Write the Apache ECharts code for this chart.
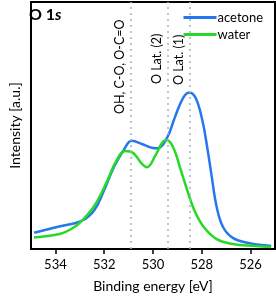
<!DOCTYPE html>
<html><head><meta charset="utf-8">
<script src="https://cdn.jsdelivr.net/npm/echarts@6/dist/echarts.min.js"></script>
<style>html,body{margin:0;padding:0;background:#fff}#c{width:276px;height:298px}</style>
</head><body><div id="c"></div>
<script>
const acetoneEnergy = [534.87,533.85,532.91,532.4,532.0,531.6,531.2,530.87,530.4,530.0,529.82,529.43,529.1,528.77,528.51,528.25,527.98,527.78,527.59,527.39,527.13,526.73,526.08,525.16];
const acetoneIntensity = [6.6,9.1,11.5,15.8,23.9,33.2,40.1,43.8,42.3,40.9,40.8,44.9,53.4,61.1,63.4,61.1,52.2,41.3,29.1,17.0,8.9,4.5,2.4,1.2];
const waterEnergy = [534.88,533.83,533.3,532.91,532.38,531.86,531.53,531.13,530.81,530.48,530.25,529.89,529.63,529.43,529.16,528.9,528.64,528.31,527.92,527.39,526.73,525.81,525.16];
const waterIntensity = [4.7,6.1,8.4,11.5,17.8,27.9,35.2,39.7,38.9,34.8,33.1,38.1,42.9,44.1,40.9,33.2,25.1,15.8,8.9,4.0,2.0,1.2,0.8];
const xTicks = [526,528,530,532,534];
const peakPositions = [530.9, 529.4, 528.5];
const peakLabels = ['OH, C-O, O-C=O', 'O Lat. (2)', 'O Lat. (1)'];
const peakLabelBottoms = [114, 84, 85];
const seriesNames = ['acetone', 'water'];

const font = 'Lato, "Open Sans", sans-serif';
const chart = echarts.init(document.getElementById('c'));
const zip = (a, b) => a.map((v, i) => [v, b[i]]);
chart.setOption({
  animation: false,
  title: {
    text: '{b|O 1}{i|s}', left: 25, top: 5, padding: [2, 4],
    textStyle: {
      rich: {
        b: {fontFamily: font, fontSize: 16, fontWeight: 'bold', color: '#000'},
        i: {fontFamily: font, fontSize: 16, fontWeight: 'bold', fontStyle: 'italic', color: '#000'}
      }
    }
  },
  grid: {left: 26, right: 1, top: 2, bottom: 49, show: true, borderColor: '#000', borderWidth: 2},
  legend: {
    orient: 'vertical', right: 8, top: 6, itemGap: 4,
    itemWidth: 33, itemHeight: 3, icon: 'rect',
    textStyle: {fontFamily: font, fontSize: 13, color: '#000', padding: [0, 0, 0, -4]},
    data: seriesNames
  },
  xAxis: {
    type: 'value', min: 525, max: 535, inverse: true,
    axisLine: {show: true, onZero: false, lineStyle: {color: '#000', width: 2}},
    axisTick: {show: true, customValues: xTicks, length: 5, inside: false, lineStyle: {color: '#000', width: 1.5}},
    axisLabel: {customValues: xTicks, fontFamily: font, fontSize: 13, color: '#000', margin: 9},
    splitLine: {show: false},
    name: 'Binding energy [eV]', nameLocation: 'middle', nameGap: 30,
    nameTextStyle: {fontFamily: font, fontSize: 14, color: '#000'}
  },
  yAxis: {
    type: 'value', min: 0, max: 100,
    axisLine: {show: true, lineStyle: {color: '#000', width: 2}},
    axisTick: {show: false}, axisLabel: {show: false}, splitLine: {show: false},
    name: 'Intensity [a.u.]', nameLocation: 'middle', nameGap: 9,
    nameTextStyle: {fontFamily: font, fontSize: 14, color: '#000'}
  },
  series: [
    {
      name: seriesNames[0], type: 'line', smooth: 0.4, showSymbol: false,
      data: zip(acetoneEnergy, acetoneIntensity),
      lineStyle: {color: '#2677ee', width: 2.5}, itemStyle: {color: '#2677ee'}, z: 3,
      markLine: {
        silent: true, symbol: 'none', label: {show: false},
        lineStyle: {type: [2, 4], color: '#a3b3c2', width: 1.5},
        data: peakPositions.map(v => ({xAxis: v}))
      }
    },
    {
      name: seriesNames[1], type: 'line', smooth: 0.4, showSymbol: false,
      data: zip(waterEnergy, waterIntensity),
      lineStyle: {color: '#27d927', width: 2.5}, itemStyle: {color: '#27d927'}, z: 4
    }
  ]
});
const graphics = [];
peakPositions.forEach((v, i) => {
  const px = chart.convertToPixel({gridIndex: 0}, [v, 0])[0];
  graphics.push({
    type: 'text', x: px - 11, y: peakLabelBottoms[i], rotation: Math.PI / 2,
    style: {text: peakLabels[i], fontFamily: font, fontSize: 12.5, fill: '#000', align: 'left', verticalAlign: 'middle'}
  });
});
chart.setOption({graphic: graphics});
</script></body></html>
